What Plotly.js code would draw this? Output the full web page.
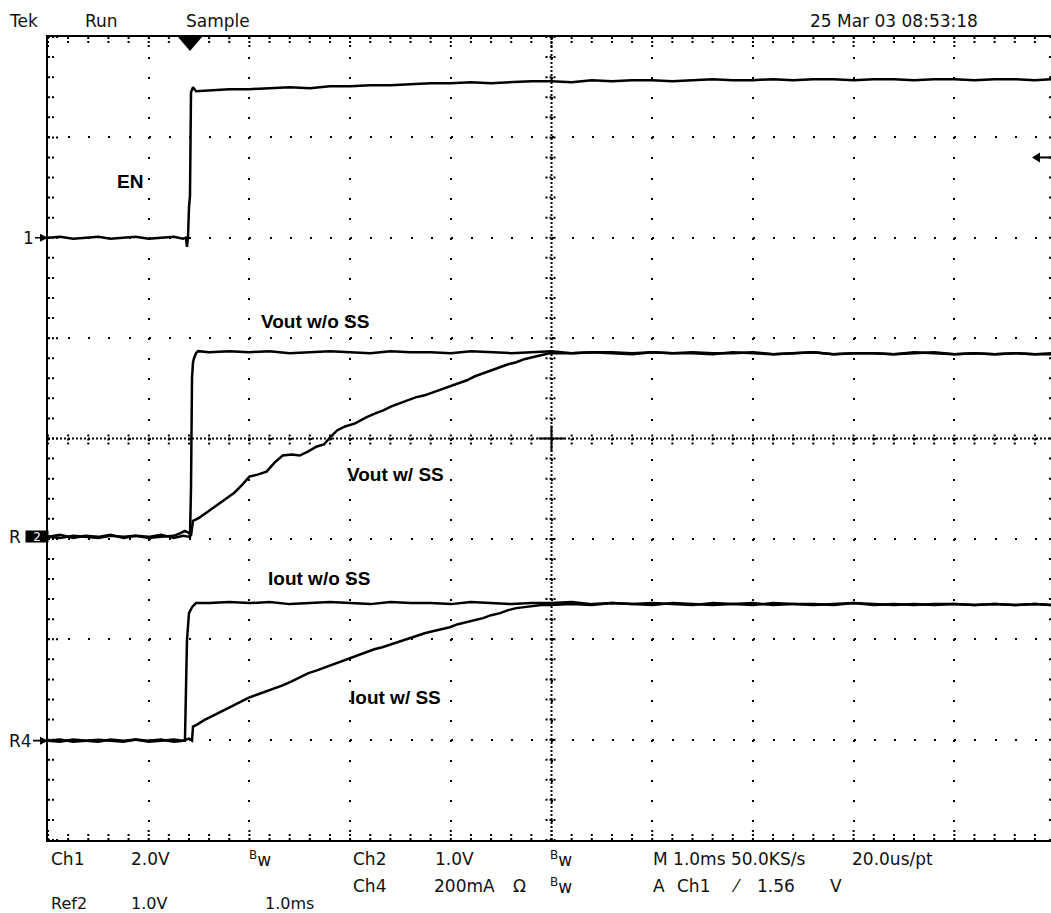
<!DOCTYPE html>
<html>
<head>
<meta charset="utf-8">
<script src="https://cdn.plot.ly/plotly-3.0.1.min.js"></script>
<style>html,body{margin:0;padding:0;background:#fff}#chart{width:1051px;height:913px}</style>
</head>
<body>
<div id="chart"></div>
<script>
// ---------------- DATA (time: ms on screen = divisions, level: vertical divisions) ----------------
const enTime = [0,0.12,0.25,0.37,0.5,0.62,0.75,0.87,1.0,1.12,1.25,1.34,1.37,1.38,1.39,1.40,1.41,1.42,1.44,1.47,1.6,1.8,2.0,2.2,2.4,2.6,2.8,3.0,3.2,3.4,3.6,3.8,4.0,4.2,4.4,4.6,4.8,5.0,5.2,5.4,5.6,5.8,6.0,6.2,6.4,6.6,6.8,7.0,7.2,7.4,7.6,7.8,8.0,8.2,8.4,8.6,8.8,9.0,9.2,9.4,9.6,9.8,9.96];
const enLevel = [6.00,6.01,5.99,6.00,6.01,5.99,6.00,6.01,5.99,6.00,6.01,5.99,6.00,5.91,6.00,6.30,6.42,7.45,7.50,7.46,7.47,7.48,7.48,7.49,7.50,7.49,7.51,7.51,7.52,7.52,7.53,7.54,7.54,7.55,7.54,7.55,7.56,7.56,7.55,7.57,7.56,7.57,7.57,7.56,7.57,7.58,7.57,7.57,7.58,7.57,7.58,7.58,7.57,7.58,7.58,7.57,7.58,7.58,7.57,7.58,7.58,7.57,7.58];

const voutNoSsTime = [0,0.12,0.25,0.37,0.5,0.62,0.75,0.87,1.0,1.12,1.25,1.34,1.41,1.42,1.43,1.44,1.45,1.47,1.49,1.6,1.8,2.0,2.2,2.4,2.6,2.8,3.0,3.2,3.4,3.6,3.8,4.0,4.2,4.4,4.6,4.8,5.0,5.2,5.4,5.6,5.8,6.0,6.2,6.4,6.6,6.8,7.0,7.2,7.4,7.6,7.8,8.0,8.2,8.4,8.6,8.8,9.0,9.2,9.4,9.6,9.8,9.96];
const voutNoSs = [3.02,3.04,3.01,3.03,3.02,3.04,3.01,3.03,3.02,3.04,3.01,3.03,3.02,3.50,4.60,4.76,4.80,4.85,4.87,4.86,4.87,4.86,4.87,4.85,4.86,4.87,4.86,4.85,4.87,4.86,4.86,4.85,4.87,4.86,4.85,4.86,4.87,4.85,4.86,4.86,4.85,4.86,4.85,4.86,4.85,4.85,4.86,4.84,4.85,4.86,4.84,4.85,4.85,4.84,4.86,4.85,4.84,4.85,4.84,4.85,4.84,4.84];

const voutSsTime = [0,0.12,0.25,0.37,0.5,0.62,0.75,0.87,1.0,1.12,1.25,1.32,1.36,1.40,1.42,1.44,1.50,1.60,1.68,1.76,1.85,1.93,2.00,2.08,2.17,2.25,2.33,2.42,2.50,2.58,2.67,2.74,2.80,2.87,2.95,3.05,3.16,3.25,3.33,3.41,3.49,3.57,3.65,3.74,3.82,3.91,4.00,4.08,4.16,4.24,4.32,4.41,4.49,4.57,4.65,4.73,4.81,4.90,4.98,5.2,5.4,5.6,5.8,6.0,6.2,6.4,6.6,6.8,7.0,7.2,7.4,7.6,7.8,8.0,8.2,8.4,8.6,8.8,9.0,9.2,9.4,9.6,9.8,9.96];
const voutSs = [3.02,3.01,3.03,3.02,3.01,3.03,3.02,3.03,3.01,3.02,3.03,3.06,3.08,3.06,3.03,3.18,3.21,3.28,3.34,3.40,3.46,3.54,3.62,3.64,3.67,3.76,3.83,3.84,3.83,3.87,3.92,3.94,4.01,4.08,4.12,4.15,4.21,4.25,4.28,4.32,4.35,4.38,4.41,4.43,4.46,4.49,4.52,4.55,4.58,4.62,4.65,4.68,4.71,4.74,4.76,4.79,4.81,4.83,4.85,4.85,4.86,4.85,4.84,4.86,4.85,4.85,4.84,4.86,4.85,4.84,4.85,4.86,4.84,4.85,4.85,4.84,4.85,4.86,4.84,4.85,4.84,4.85,4.84,4.85];

const ioutNoSsTime = [0,0.12,0.25,0.37,0.5,0.62,0.75,0.87,1.0,1.12,1.25,1.36,1.37,1.38,1.40,1.43,1.47,1.6,1.8,2.0,2.2,2.4,2.6,2.8,3.0,3.2,3.4,3.6,3.8,4.0,4.2,4.4,4.6,4.8,5.0,5.2,5.4,5.6,5.8,6.0,6.2,6.4,6.6,6.8,7.0,7.2,7.4,7.6,7.8,8.0,8.2,8.4,8.6,8.8,9.0,9.2,9.4,9.6,9.8,9.96];
const ioutNoSs = [0.99,1.00,0.98,0.99,1.00,0.99,0.98,1.00,0.99,1.00,0.98,0.99,1.47,1.99,2.26,2.32,2.36,2.36,2.37,2.36,2.37,2.35,2.36,2.37,2.36,2.35,2.37,2.36,2.36,2.35,2.37,2.36,2.35,2.36,2.36,2.37,2.35,2.36,2.35,2.36,2.35,2.34,2.36,2.35,2.34,2.36,2.35,2.34,2.35,2.36,2.34,2.35,2.34,2.35,2.35,2.34,2.35,2.34,2.35,2.34];

const ioutSsTime = [0,0.12,0.25,0.37,0.5,0.62,0.75,0.87,1.0,1.12,1.25,1.34,1.40,1.43,1.44,1.48,1.56,1.68,1.76,1.84,1.92,2.00,2.08,2.17,2.25,2.33,2.42,2.50,2.58,2.67,2.75,2.84,2.92,3.00,3.08,3.16,3.24,3.32,3.41,3.49,3.57,3.66,3.74,3.82,3.91,3.99,4.07,4.15,4.24,4.32,4.40,4.49,4.57,4.65,4.73,4.82,4.90,4.98,5.2,5.4,5.6,5.8,6.0,6.2,6.4,6.6,6.8,7.0,7.2,7.4,7.6,7.8,8.0,8.2,8.4,8.6,8.8,9.0,9.2,9.4,9.6,9.8,9.96];
const ioutSs = [0.99,0.98,1.00,0.99,0.98,1.00,0.99,1.00,0.98,0.99,1.00,0.99,1.01,0.99,1.13,1.15,1.20,1.26,1.30,1.34,1.38,1.42,1.45,1.48,1.51,1.54,1.58,1.62,1.66,1.69,1.72,1.75,1.78,1.81,1.84,1.87,1.90,1.92,1.95,1.98,2.01,2.04,2.06,2.08,2.10,2.12,2.15,2.17,2.19,2.21,2.24,2.26,2.29,2.31,2.32,2.33,2.34,2.34,2.35,2.34,2.36,2.35,2.34,2.36,2.35,2.34,2.35,2.36,2.34,2.35,2.35,2.34,2.36,2.35,2.34,2.35,2.34,2.35,2.34,2.35,2.34,2.35,2.34];

const traceLabels = ['EN', 'Vout w/o SS', 'Vout w/ SS', 'Iout w/o SS', 'Iout w/ SS'];
const channelMarkers = ['1', 'R', '2', 'R4'];
const markerLevels = [6.00, 3.02, 0.99];   // ground reference levels (divisions)
const triggerTime = 1.41;                  // ms on screen
const triggerLevel = 6.80;                 // divisions
const headerTexts = ['Tek', 'Run', 'Sample', '25 Mar 03 08:53:18'];
const row1Texts = ['Ch1', '2.0V', '<sup>B</sup>w', 'Ch2', '1.0V', '<sup>B</sup>w', 'M 1.0ms 50.0KS/s', '20.0us/pt'];
const row2Texts = ['Ch4', '200mA', 'Ω', '<sup>B</sup>w', 'A', 'Ch1', '⁄', '1.56', 'V'];
const row3Texts = ['Ref2', '1.0V', '1.0ms'];

// ---------------- LAYOUT GEOMETRY ----------------
const L = 48, T = 37, W = 1003, H = 803, B = T + H;
const xMax = 9.96, yMax = 8, xCenter = 5, yCenter = 4, subDiv = 0.2;
const pxX = x => (x - L) / W;
const pxY = y => (B - y) / H;
const monoFont = {family: 'DejaVu Sans', size: 17, color: '#111'};
const smallMono = {family: 'DejaVu Sans', size: 16, color: '#111'};
const boldFont = {family: 'Liberation Sans, Arial', size: 19, color: '#000', weight: 'bold'};
const k = '#000';

function txt(text, x, y, extra) {
  return Object.assign({xref: 'paper', yref: 'paper', x: pxX(x), y: pxY(y), text: text,
    showarrow: false, xanchor: 'left', yanchor: 'middle', font: monoFont}, extra || {});
}

const annotations = [];
[7, 83, 184, 808].forEach((x, i) => annotations.push(txt(headerTexts[i], x, 21)));
[49, 129, 247, 351, 433, 548, 651, 850].forEach((x, i) => annotations.push(txt(row1Texts[i], x, 859)));
[351, 432, 511, 548, 651, 675, 729, 755, 828].forEach((x, i) => annotations.push(txt(row2Texts[i], x, 886)));
[49, 129, 263].forEach((x, i) => annotations.push(txt(row3Texts[i], x, 903, {font: smallMono})));

// trace labels
[[130, 181], [315, 321], [395, 475], [319, 578], [395, 697]].forEach((p, i) =>
  annotations.push(txt(traceLabels[i], p[0], p[1], {xanchor: 'center', font: boldFont})));

// channel markers on left
annotations.push({xref: 'paper', yref: 'y', x: 0, y: markerLevels[0], text: channelMarkers[0], font: monoFont,
  showarrow: true, ax: -20, ay: 0, arrowhead: 2, arrowsize: 1, arrowwidth: 1.6, arrowcolor: k, standoff: 0});
annotations.push({xref: 'paper', yref: 'y', x: pxX(7), y: markerLevels[1], text: channelMarkers[1], font: monoFont,
  showarrow: false, xanchor: 'left', yanchor: 'middle'});
annotations.push({xref: 'paper', yref: 'y', x: pxX(36.5), y: markerLevels[1], text: channelMarkers[2],
  font: {family: 'DejaVu Sans', size: 12, color: '#fff'}, bgcolor: k, width: 22, height: 11, borderpad: 0,
  showarrow: false, xanchor: 'center', yanchor: 'middle'});
annotations.push({xref: 'paper', yref: 'y', x: 0, y: markerLevels[2], text: channelMarkers[3], font: monoFont,
  showarrow: true, ax: -28, ay: 0, arrowhead: 2, arrowsize: 1, arrowwidth: 1.6, arrowcolor: k, standoff: 0});

// ---------------- TRACES ----------------
const lineStyle = {color: k, width: 2.5};
const series = [
  [enTime, enLevel], [voutNoSsTime, voutNoSs], [voutSsTime, voutSs],
  [ioutNoSsTime, ioutNoSs], [ioutSsTime, ioutSs]
];
const traces = series.map((s, i) => ({
  type: 'scatter', mode: 'lines', x: s[0], y: s[1], name: traceLabels[i],
  line: lineStyle, hoverinfo: 'skip', showlegend: false
}));

// ---------------- GRATICULE DECORATION (shapes) ----------------
const shapes = [];
const dotted = {color: k, width: 2, dash: '2px,2px'};
const isWhole = v => Math.abs(v - Math.round(v)) < 1e-6;
// dense center lines
shapes.push({type: 'line', layer: 'below', xref: 'x', yref: 'paper', x0: xCenter, x1: xCenter, y0: 0, y1: 1, line: dotted});
shapes.push({type: 'line', layer: 'below', xref: 'paper', yref: 'y', x0: 0, x1: 1, y0: yCenter, y1: yCenter, line: dotted});
// ticks along horizontal direction (x values)
for (let i = 0; i * subDiv <= xMax + 1e-9; i++) {
  const v = i * subDiv;
  const border = isWhole(v) ? 10 : 6;
  const center = Math.abs(v - xCenter) < 1e-6 ? 13 : 6;
  shapes.push({type: 'line', xref: 'x', yref: 'paper', x0: v, x1: v, ysizemode: 'pixel', yanchor: 0, y0: 0, y1: border, line: dotted});
  shapes.push({type: 'line', xref: 'x', yref: 'paper', x0: v, x1: v, ysizemode: 'pixel', yanchor: 1, y0: 0, y1: -border, line: dotted});
  shapes.push({type: 'line', layer: 'below', xref: 'x', yref: 'y', x0: v, x1: v, ysizemode: 'pixel', yanchor: yCenter,
    y0: -center, y1: center, line: center > 6 ? {color: k, width: 2} : dotted});
}
// ticks along vertical direction (y values)
for (let j = 0; j * subDiv <= yMax + 1e-9; j++) {
  const v = j * subDiv;
  const border = isWhole(v) ? 10 : 6;
  const center = Math.abs(v - yCenter) < 1e-6 ? 13 : 6;
  shapes.push({type: 'line', xref: 'paper', yref: 'y', y0: v, y1: v, xsizemode: 'pixel', xanchor: 0, x0: 0, x1: border, line: dotted});
  shapes.push({type: 'line', xref: 'paper', yref: 'y', y0: v, y1: v, xsizemode: 'pixel', xanchor: 1, x0: 0, x1: -4, line: dotted});
  shapes.push({type: 'line', layer: 'below', xref: 'x', yref: 'y', y0: v, y1: v, xsizemode: 'pixel', xanchor: xCenter,
    x0: -center, x1: center, line: center > 6 ? {color: k, width: 2} : dotted});
}
// trigger position marker (top)
shapes.push({type: 'path', xref: 'x', yref: 'paper', xsizemode: 'pixel', ysizemode: 'pixel',
  xanchor: triggerTime, yanchor: 1, path: 'M-12,0 L12,0 L0,-14 Z', fillcolor: k, line: {width: 0}});
// trigger level arrow (right)
shapes.push({type: 'line', xref: 'paper', yref: 'y', xsizemode: 'pixel', ysizemode: 'pixel',
  xanchor: 1, yanchor: triggerLevel, x0: -12, x1: 0, y0: 0, y1: 0, line: {color: k, width: 2}});
shapes.push({type: 'path', xref: 'paper', yref: 'y', xsizemode: 'pixel', ysizemode: 'pixel',
  xanchor: 1, yanchor: triggerLevel, path: 'M-19,0 L-11,5 L-11,-5 Z', fillcolor: k, line: {width: 0}});

// ---------------- AXES ----------------
const layout = {
  width: 1051, height: 913,
  margin: {l: L, r: 0, t: T, b: 913 - B, pad: 0},
  paper_bgcolor: '#fff', plot_bgcolor: '#fff',
  showlegend: false,
  xaxis: {
    range: [0, xMax], tickmode: 'linear', tick0: 0, dtick: 1, showticklabels: false, zeroline: false, fixedrange: true,
    showgrid: true, gridcolor: k, gridwidth: 2, griddash: '2px,18.08px',
    showline: true, linecolor: k, linewidth: 2, mirror: true, ticks: ''
  },
  yaxis: {
    range: [0, yMax], tickmode: 'linear', tick0: 0, dtick: 1, showticklabels: false, zeroline: false, fixedrange: true,
    showgrid: true, gridcolor: k, gridwidth: 2, griddash: '2px,18.14px',
    showline: true, linecolor: k, linewidth: 2, mirror: false, ticks: ''
  },
  shapes: shapes,
  annotations: annotations
};

Plotly.newPlot('chart', traces, layout, {staticPlot: true, displayModeBar: false});
</script>
</body>
</html>
